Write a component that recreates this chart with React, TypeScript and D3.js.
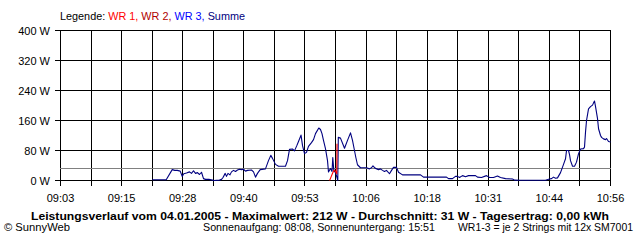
import React from "react";
import * as d3 from "d3";

// ---- data ----
const legendLabels = ["WR 1,", "WR 2,", "WR 3,", "Summe"];
const tickLabels = ["09:03", "09:15", "09:28", "09:40", "09:53", "10:06", "10:18", "10:31", "10:44", "10:56"];
const yTickValues = [0, 80, 160, 240, 320, 400];
const timeStart = 543.1; // minutes since midnight (09:03)
const timeEnd = 656.68; // minutes since midnight (10:56)
const averageWatts = 31;

// minutes after 09:00
const summeMinutes = [
  22.04, 24.93, 26.17, 26.7, 27.2, 27.82, 28.23, 28.56, 29.12, 29.74, 30.15, 30.57, 30.98, 31.39, 31.8, 32.22,
  32.63, 33.04, 33.73, 34.49, 34.76, 35.93, 36.35, 36.66, 37.11, 37.38, 37.69, 38.1, 38.41, 38.83, 39.24, 39.65,
  40.07, 40.48, 40.89, 41.3, 41.72, 42.54, 42.96, 43.37, 43.78, 44.34, 45.43, 46.05, 46.53, 46.88, 47.5, 48.12,
  49.56, 49.98, 50.39, 51.01, 51.42, 51.9, 52.25, 52.77, 53.08, 53.49, 53.9, 54.31, 54.93, 55.35, 55.76, 56.44,
  56.79, 57.1, 57.41, 57.82, 58.24, 58.44, 58.86, 59.17, 59.33, 59.54, 59.89, 60.2, 60.36, 60.47, 60.92, 61.75,
  62.37, 62.99, 63.4, 63.81, 64.08, 64.43, 65.05, 66.29, 66.91, 67.32, 67.63, 68.05, 68.77, 69.18, 69.6, 70.01,
  70.42, 71.04, 71.46, 71.87, 72.49, 72.9, 73.73, 77.45, 78.06, 82.81, 83.23, 84.05, 84.67, 85.09, 85.5, 86.12,
  86.74, 87.36, 88.8, 89.21, 90.04, 91.07, 91.69, 92.52, 93.34, 93.96, 95.0, 96.44, 96.86, 98.09, 103.26, 104.08,
  104.5, 104.91, 105.32, 105.74, 106.36, 106.98, 107.39, 107.6, 108.01, 108.22, 108.42, 108.84, 109.25, 109.66,
  110.07, 110.49, 111.11, 111.31, 111.52, 111.73, 112.14, 112.55, 112.97, 113.18, 113.38, 113.59, 114.0, 114.21,
  114.62, 114.83, 115.24, 115.65, 115.86, 116.27, 116.68,
];
const summeWatts = [
  2, 2, 29, 27, 27, 25, 11, 18, 20, 23, 19, 26, 19, 21, 16, 22,
  5, 3, 3, 1, 0, 1, 3, 8, 19, 11, 19, 15, 23, 27, 24, 28,
  30, 29, 30, 25, 27, 28, 23, 9, 19, 29, 31, 53, 67, 59, 43, 38,
  38, 53, 83, 84, 79, 93, 104, 121, 93, 72, 75, 91, 101, 109, 125, 140,
  136, 125, 107, 85, 53, 23, 32, 24, 61, 27, 21, 8, 0, 115, 113, 86,
  107, 127, 107, 80, 62, 42, 34, 34, 31, 34, 39, 33, 29, 31, 27, 24,
  27, 18, 27, 35, 35, 22, 15, 15, 9, 9, 5, 5, 11, 11, 8, 13,
  10, 13, 13, 9, 8, 13, 8, 8, 12, 8, 5, 4, 1, 0.5, 0.5, 4,
  5, 9, 6, 7, 21, 43, 58, 80, 80, 69, 53, 38, 38, 49,
  71, 84, 85, 89, 129, 160, 191, 197, 201, 207, 212, 197, 165, 138,
  120, 115, 111, 109, 112, 104, 103,
];

const wr1Minutes = [58.67, 59.02, 59.3, 59.64, 59.85, 60.15, 60.2];
const wr1Watts = [0, 11, 20, 28, 25, 18, 98];

const titleText =
  "Leistungsverlauf vom 04.01.2005 - Maximalwert: 212 W - Durchschnitt: 31 W - Tagesertrag: 0,00 kWh";
const footerLeft = "\u00A9 SunnyWeb";
const footerMiddle = "Sonnenaufgang: 08:08, Sonnenuntergang: 15:51";
const footerRight = "WR1-3 = je 2 Strings mit 12x SM7001";

// ---- styles ----
const legendColors = ["#ff0000", "#b00000", "#0000ff", "#000080"];
const FONT = "'Liberation Sans', Arial, sans-serif";

export default function App() {
  const W = 640;
  const H = 240;
  const x = d3.scaleLinear().domain([timeStart, timeEnd]).range([60, 610]);
  const y = d3.scaleLinear().domain([0, 400]).range([180, 30]);
  const px = (v: number) => Math.round(v) + 0.5;

  const gridTimes = d3.range(19).map((i) => timeStart + (i * (timeEnd - timeStart)) / 18);

  const summeData = summeMinutes.map((m, i) => ({ t: 540 + m, w: summeWatts[i] }));
  const wr1Data = wr1Minutes.map((m, i) => ({ t: 540 + m, w: wr1Watts[i] }));
  const line = d3
    .line<{ t: number; w: number }>()
    .x((d) => x(d.t) + 0.5)
    .y((d) => y(d.w) + 0.5);

  return (
    <svg
      width={W}
      height={H}
      style={{ position: "absolute", left: 0, top: 0, background: "#fff" }}
      fontFamily={FONT}
      fontSize={11}
    >
      <rect x={0} y={0} width={W} height={H} fill="#fff" />
      {/* legend */}
      <text x={60} y={20} fill="#000" textLength={185} lengthAdjust="spacingAndGlyphs">
        <tspan>Legende: </tspan>
        {legendLabels.map((l, i) => (
          <tspan key={l} fill={legendColors[i]}>
            {l + (i < legendLabels.length - 1 ? " " : "")}
          </tspan>
        ))}
      </text>

      {/* horizontal grid + y ticks */}
      <g shapeRendering="crispEdges" stroke="#000" strokeWidth={1}>
        {yTickValues.map((v) => (
          <line key={"h" + v} x1={55} x2={611} y1={px(y(v))} y2={px(y(v))} />
        ))}
        {gridTimes.map((t, i) => (
          <line key={"v" + i} x1={px(x(t))} x2={px(x(t))} y1={30} y2={186} />
        ))}
      </g>
      {yTickValues.map((v) => (
        <text key={"yl" + v} x={50} y={y(v) + 4.5} textAnchor="end" fill="#000">
          {v} W
        </text>
      ))}
      {tickLabels.map((l, i) => (
        <text key={"xl" + i} x={x(gridTimes[i * 2]) + 0.5} y={202} textAnchor="middle" fill="#000">
          {l}
        </text>
      ))}

      {/* average line */}
      <line
        x1={60}
        x2={611}
        y1={px(y(averageWatts))}
        y2={px(y(averageWatts))}
        stroke="#808080"
        strokeWidth={1}
        shapeRendering="crispEdges"
      />

      {/* series */}
      <path d={line(summeData) || ""} fill="none" stroke="#000080" strokeWidth={1.1} strokeLinejoin="round" />
      <path d={line(wr1Data) || ""} fill="none" stroke="#ff0000" strokeWidth={1.1} strokeLinejoin="round" />

      {/* title and footer */}
      <text
        x={320}
        y={220}
        textAnchor="middle"
        fontWeight="bold"
        fontSize={11.5}
        fill="#000"
        textLength={578}
        lengthAdjust="spacingAndGlyphs"
      >
        {titleText}
      </text>
      <g fontSize={10.5}>
        <text x={4} y={230.5} fill="#000" textLength={66} lengthAdjust="spacingAndGlyphs">
          {footerLeft}
        </text>
        <text x={203} y={230.5} fill="#000" textLength={232} lengthAdjust="spacingAndGlyphs">
          {footerMiddle}
        </text>
        <text x={458} y={230.5} fill="#000" textLength={175} lengthAdjust="spacingAndGlyphs">
          {footerRight}
        </text>
      </g>
    </svg>
  );
}
